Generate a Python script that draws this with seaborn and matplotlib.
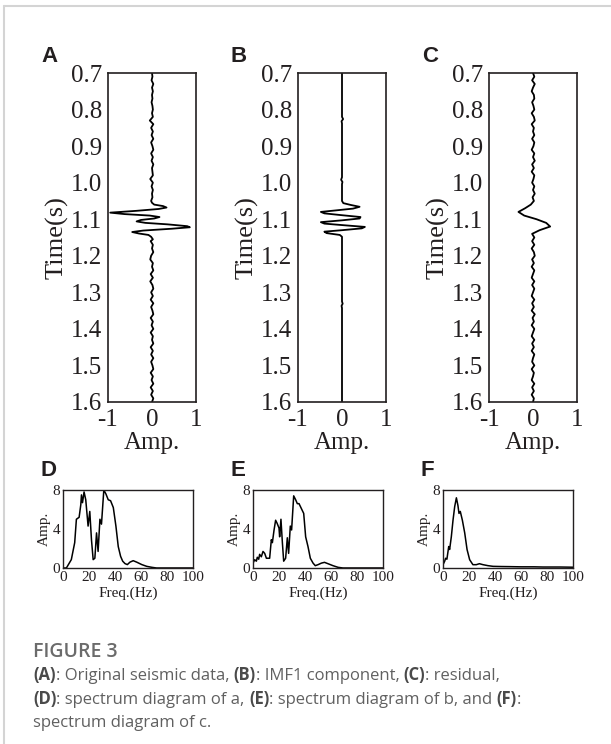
import matplotlib
matplotlib.use("Agg")
import matplotlib.pyplot as plt
import seaborn as sns
import numpy as np

# ---------------- data ----------------
# Trace A: original seismic data (time s, amplitude)
time_a = [0.70, 0.71, 0.72, 0.73, 0.74, 0.75, 0.76, 0.77, 0.78, 0.79, 0.80, 0.81, 0.82, 0.83,
          0.84, 0.85, 0.86, 0.87, 0.88, 0.89, 0.90, 0.91, 0.92, 0.93, 0.94, 0.95, 0.96, 0.97,
          0.98, 0.99, 1.00, 1.01, 1.02, 1.03, 1.04, 1.05, 1.055, 1.060, 1.064, 1.068, 1.072,
          1.077, 1.082, 1.086, 1.090, 1.094, 1.098, 1.102, 1.106, 1.110, 1.114, 1.119, 1.122,
          1.126, 1.131, 1.135, 1.139, 1.143, 1.148, 1.155, 1.16, 1.17, 1.18, 1.19, 1.20, 1.21,
          1.22, 1.23, 1.24, 1.25, 1.26, 1.27, 1.28, 1.29, 1.30, 1.31, 1.32, 1.33, 1.34, 1.35,
          1.36, 1.37, 1.38, 1.39, 1.40, 1.41, 1.42, 1.43, 1.44, 1.45, 1.46, 1.47, 1.48, 1.49,
          1.50, 1.51, 1.52, 1.53, 1.54, 1.55, 1.56, 1.57, 1.58, 1.59, 1.60]
amp_a = [0.00, 0.01, -0.01, 0.03, 0.00, 0.02, 0.00, 0.01, -0.01, 0.01, 0.02, 0.00, 0.02, -0.05,
         0.03, -0.02, 0.02, -0.01, 0.03, -0.02, 0.01, 0.03, -0.02, 0.02, -0.01, 0.03, 0.00, 0.01,
         0.02, -0.04, 0.02, -0.01, 0.02, 0.00, 0.01, -0.02, 0.00, 0.05, 0.25, 0.33, 0.15,
         -0.35, -0.95, -0.62, -0.05, 0.17, 0.05, -0.25, -0.35, -0.15, 0.35, 0.80, 0.86,
         0.45, -0.20, -0.45, -0.30, -0.08, -0.02, 0.02, -0.03, 0.02, 0.00, 0.03, -0.02, -0.04,
         0.02, 0.00, 0.03, -0.03, 0.02, -0.04, 0.01, 0.03, -0.02, 0.02, -0.03, 0.03, -0.02, 0.01,
         0.03, -0.03, 0.02, -0.01, 0.03, -0.03, 0.02, 0.00, 0.03, -0.03, 0.02, -0.02, 0.03, -0.02,
         0.01, 0.03, -0.03, 0.02, -0.01, 0.03, -0.03, 0.02, -0.02, 0.03, 0.00]

# Trace B: IMF1 component
time_b = [0.70, 0.82, 0.826, 0.832, 0.838, 0.985, 0.992, 0.998, 1.004, 1.05, 1.056, 1.061,
          1.066, 1.071, 1.076, 1.080, 1.084, 1.089, 1.094, 1.098, 1.103, 1.108, 1.112, 1.117,
          1.121, 1.125, 1.130, 1.134, 1.138, 1.143, 1.148, 1.325, 1.331, 1.337, 1.343, 1.60]
amp_b = [0.0, 0.0, 0.025, -0.01, 0.0, 0.0, -0.02, 0.01, 0.0, 0.0, 0.03, 0.20,
         0.40, 0.25, -0.15, -0.48, -0.40, 0.00, 0.42, 0.40, 0.00, -0.48, -0.40, 0.10,
         0.52, 0.45, 0.00, -0.40, -0.35, -0.05, 0.0, 0.0, 0.015, -0.01, 0.0, 0.0]

# Trace C: residual
time_c = [0.70, 0.71, 0.72, 0.73, 0.74, 0.75, 0.76, 0.77, 0.78, 0.79, 0.80, 0.81, 0.82, 0.83,
          0.84, 0.85, 0.86, 0.87, 0.88, 0.89, 0.90, 0.91, 0.92, 0.93, 0.94, 0.95, 0.96, 0.97,
          0.98, 0.99, 1.00, 1.01, 1.02, 1.03, 1.04, 1.05, 1.06, 1.07, 1.08, 1.09, 1.10, 1.11,
          1.12, 1.13, 1.14, 1.15, 1.16, 1.17, 1.18, 1.19, 1.20, 1.21, 1.22, 1.23, 1.24, 1.25,
          1.26, 1.27, 1.28, 1.29, 1.30, 1.31, 1.32, 1.33, 1.34, 1.35, 1.36, 1.37, 1.38, 1.39,
          1.40, 1.41, 1.42, 1.43, 1.44, 1.45, 1.46, 1.47, 1.48, 1.49, 1.50, 1.51, 1.52, 1.53,
          1.54, 1.55, 1.56, 1.57, 1.58, 1.59, 1.60]
amp_c = [0.00, 0.03, -0.02, 0.04, 0.00, -0.03, 0.02, 0.03, -0.02, 0.01, 0.03, -0.03, 0.02, 0.04,
         -0.03, 0.02, 0.00, 0.03, -0.02, 0.03, 0.01, -0.03, 0.03, 0.00, 0.04, -0.02, 0.02, -0.03,
         0.03, 0.01, -0.02, 0.03, 0.00, 0.04, -0.01, 0.02, -0.05, -0.18, -0.33, -0.20, 0.08, 0.30,
         0.39, 0.15, -0.02, 0.03, -0.02, 0.03, -0.03, 0.02, 0.04, -0.02, 0.02, -0.03, 0.03, 0.00,
         -0.03, 0.03, -0.02, 0.03, 0.00, -0.03, 0.03, -0.02, 0.02, -0.03, 0.04, -0.01, 0.02, -0.03,
         0.03, 0.00, -0.03, 0.03, -0.02, 0.02, -0.03, 0.03, 0.00, -0.02, 0.03, -0.03, 0.02, 0.00,
         -0.03, 0.03, -0.02, 0.02, -0.03, 0.02, 0.00]

# Spectra (frequency Hz, amplitude)
freq_d = [0, 2.6, 6.4, 9.0, 10.3, 12.4, 13.7, 14.2, 15.0, 16.2, 17.5, 19.3, 20.6, 21.9, 23.2,
          24.5, 25.8, 27.0, 28.4, 29.6, 31.4, 33.0, 34.8, 36.6, 38.7, 40.7, 42.5, 44.3, 45.9,
          47.7, 49.5, 51.5, 54.0, 56.7, 60.6, 64.4, 68.3, 72.0, 100]
spec_d = [0.0, 0.0, 0.86, 2.6, 5.0, 5.2, 6.5, 7.5, 6.7, 7.8, 7.0, 4.3, 5.8, 2.9, 0.86,
          1.0, 3.6, 1.7, 5.0, 4.5, 8.0, 7.6, 7.0, 6.9, 6.2, 4.3, 2.2, 1.2, 0.7,
          0.45, 0.35, 0.6, 0.75, 0.6, 0.35, 0.17, 0.07, 0.0, 0.0]

freq_e = [0, 1.3, 2.6, 3.3, 4.4, 5.1, 6.4, 7.7, 9.0, 10.3, 12.8, 14.1, 14.9, 16.2, 17.4, 18.5,
          20.0, 20.5, 21.5, 22.6, 23.6, 25.1, 26.4, 27.4, 28.7, 29.7, 31.3, 32.8, 34.1, 35.4,
          37.2, 39.0, 40.5, 42.3, 44.1, 46.2, 47.9, 50.0, 52.6, 55.0, 57.7, 61.5, 65.4, 69.2, 100]
spec_e = [0.5, 0.85, 0.7, 1.1, 0.9, 1.4, 1.15, 1.7, 1.5, 1.0, 1.0, 2.9, 2.6, 3.9, 4.9, 4.6,
          4.1, 3.2, 5.0, 2.6, 0.7, 1.0, 3.1, 1.5, 4.3, 3.9, 7.4, 7.0, 6.6, 6.6,
          6.1, 5.6, 3.2, 2.2, 1.0, 0.5, 0.24, 0.34, 0.5, 0.58, 0.44, 0.24, 0.07, 0.0, 0.0]

freq_f = [0, 1.3, 2.0, 3.0, 4.4, 5.1, 6.4, 7.7, 9.0, 10.3, 11.5, 12.3, 13.3, 14.9, 16.7, 18.5,
          20.5, 23.0, 25.6, 28.0, 30.8, 34.6, 38.5, 45.0, 51.0, 60.0, 70.0, 77.0, 90.0, 100]
spec_f = [0.34, 0.7, 1.0, 0.9, 2.2, 1.9, 3.2, 4.9, 6.3, 7.2, 6.4, 5.6, 5.8, 4.9, 3.6, 1.9,
          0.85, 0.34, 0.34, 0.44, 0.34, 0.24, 0.17, 0.15, 0.14, 0.12, 0.12, 0.1, 0.1, 0.08]

time_ticks = [0.7, 0.8, 0.9, 1.0, 1.1, 1.2, 1.3, 1.4, 1.5, 1.6]
time_labels = ["0.7", "0.8", "0.9", "1.0", "1.1", "1.2", "1.3", "1.4", "1.5", "1.6"]
amp_ticks = [-1, 0, 1]
amp_labels = ["-1", "0", "1"]
freq_ticks = [0, 20, 40, 60, 80, 100]
freq_labels = ["0", "20", "40", "60", "80", "100"]
spec_ticks = [0, 4, 8]
spec_labels = ["0", "4", "8"]

panel_top = ["A", "B", "C"]
panel_bot = ["D", "E", "F"]

caption_title = "FIGURE 3"
caption_lines = [
    [("(A)", True), (": Original seismic data, ", False), ("(B)", True), (": IMF1 component, ", False),
     ("(C)", True), (": residual,", False)],
    [("(D)", True), (": spectrum diagram of a, ", False), ("(E)", True), (": spectrum diagram of b, and ", False),
     ("(F)", True), (":", False)],
    [("spectrum diagram of c.", False)],
]

# ---------------- figure ----------------
sns.set_style("white")
plt.rcParams["font.family"] = ["Liberation Serif", "DejaVu Serif"]

W, H = 611, 744
fig = plt.figure(figsize=(W / 100, H / 100), dpi=100)

def px_axes(left, top, right, bottom):
    return fig.add_axes([left / W, 1 - bottom / H, (right - left) / W, (bottom - top) / H])

serif = "Liberation Serif"
ink = "#231f20"
top_lefts = [108, 298, 489]
traces = [(amp_a, time_a), (amp_b, time_b), (amp_c, time_c)]
for i, (lx, (amp, tm)) in enumerate(zip(top_lefts, traces)):
    ax = px_axes(lx, 73, lx + 88, 402)
    sns.lineplot(x=amp, y=tm, sort=False, estimator=None, color="black", lw=1.3, ax=ax)
    ax.set_xlim(-1, 1)
    ax.set_ylim(1.6, 0.7)
    ax.set_yticks(time_ticks)
    ax.set_yticklabels(time_labels, fontsize=18, family=serif)
    ax.set_xticks(amp_ticks)
    ax.set_xticklabels(amp_labels, fontsize=18, family=serif)
    ax.tick_params(direction="in", length=4, width=1.0, color=ink, labelcolor=ink)
    ax.tick_params(axis="y", pad=4)
    ax.tick_params(axis="x", pad=5)
    for s in ax.spines.values():
        s.set_linewidth(1.2)
        s.set_color(ink)
        s.set_visible(True)
    ax.set_ylabel("Time(s)", fontsize=19, family=serif, color=ink, labelpad=2)
    ax.set_xlabel("Amp.", fontsize=18, family=serif, color=ink, labelpad=1)
    fig.text((lx - 67) / W, 1 - 57 / H, panel_top[i], fontsize=16, family="Liberation Sans",
             weight="bold", color=ink, va="center", ha="left")

bot_lefts = [63, 253, 443]
spectra = [(freq_d, spec_d), (freq_e, spec_e), (freq_f, spec_f)]
for i, (lx, (fr, sp)) in enumerate(zip(bot_lefts, spectra)):
    ax = px_axes(lx, 490, lx + 130, 568)
    sns.lineplot(x=fr, y=sp, sort=False, estimator=None, color="black", lw=1.1, ax=ax)
    ax.set_xlim(0, 100)
    ax.set_ylim(0, 8)
    ax.set_xticks(freq_ticks)
    ax.set_xticklabels(freq_labels, fontsize=11, family=serif)
    ax.set_yticks(spec_ticks)
    ax.set_yticklabels(spec_labels, fontsize=11, family=serif)
    ax.tick_params(direction="in", length=3, width=0.8, color=ink, pad=2, labelcolor=ink)
    for s in ax.spines.values():
        s.set_linewidth(1.0)
        s.set_color(ink)
        s.set_visible(True)
    ax.set_ylabel("Amp.", fontsize=11, family=serif, color=ink, labelpad=1)
    ax.set_xlabel("Freq.(Hz)", fontsize=11, family=serif, color=ink, labelpad=2)
    fig.text((lx - 22) / W, 1 - 470 / H, panel_bot[i], fontsize=16, family="Liberation Sans",
             weight="bold", color=ink, va="center", ha="left")

# card border
fig.add_artist(plt.Line2D([4 / W, 1], [1 - 6 / H, 1 - 6 / H], color="#d4d4d4", lw=1.5))
fig.add_artist(plt.Line2D([4 / W, 4 / W], [0, 1 - 6 / H], color="#d4d4d4", lw=1.5))

# caption
cap_font = ["Open Sans", "DejaVu Sans"]
fig.text(33 / W, 1 - 657 / H, caption_title, fontsize=14, family=cap_font, weight="semibold",
         color="#6b6b6b", va="baseline")
renderer = fig.canvas.get_renderer()
baselines = [680, 704, 727]
for parts, yb in zip(caption_lines, baselines):
    x = 33
    for s, bold in parts:
        t = fig.text(x / W, 1 - yb / H, s, fontsize=12, family=cap_font,
                     weight="bold" if bold else "normal",
                     color="#4a4a4a" if bold else "#606060", va="baseline")
        bb = t.get_window_extent(renderer)
        x += bb.width

fig.savefig("out.png", dpi=100)
